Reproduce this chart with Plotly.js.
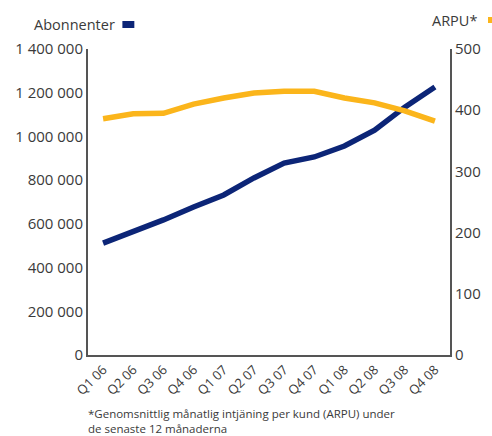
<!DOCTYPE html>
<html>
<head>
<meta charset="utf-8">
<script src="https://cdn.plot.ly/plotly-3.0.1.min.js"></script>
<style>html,body{margin:0;padding:0;background:#fff;}#chart{width:492px;height:436px;}</style>
</head>
<body>
<div id="chart"></div>
<script>
const quarters = ["Q1 06","Q2 06","Q3 06","Q4 06","Q1 07","Q2 07","Q3 07","Q4 07","Q1 08","Q2 08","Q3 08","Q4 08"];
const abonnenter = [512000, 563000, 618000, 677000, 732000, 810000, 878000, 906000, 956000, 1029000, 1134000, 1226000];
const arpu = [386, 394, 395, 410, 420, 428, 431, 431, 420, 412, 399, 382];

const navy = "#0c2577";
const gold = "#fbb51b";
const textColor = "#3a3a3a";
const fontFam = "'Open Sans', 'Noto Sans', sans-serif";

const traces = [
  {x: quarters, y: arpu, yaxis: "y2", type: "scatter", mode: "lines", name: "ARPU*",
   line: {color: gold, width: 5.5}},
  {x: quarters, y: abonnenter, yaxis: "y", type: "scatter", mode: "lines", name: "Abonnenter",
   line: {color: navy, width: 5.5}}
];

const layout = {
  width: 492, height: 436,
  margin: {l: 88, r: 42, t: 49, b: 81},
  paper_bgcolor: "#fff", plot_bgcolor: "#fff",
  showlegend: false,
  separators: ", ",
  font: {family: fontFam, size: 13, color: textColor},
  xaxis: {
    type: "category", range: [-0.5, 11.5],
    showgrid: false, zeroline: false,
    showline: true, linecolor: "#555", linewidth: 2,
    tickangle: -45, ticks: "", tickfont: {size: 13, color: textColor},
    fixedrange: true
  },
  yaxis: {
    range: [0, 1400000], dtick: 200000, tickformat: ",d",
    showgrid: false, zeroline: false,
    showline: true, linecolor: "#555", linewidth: 2,
    ticks: "", tickfont: {size: 15, color: textColor},
    fixedrange: true
  },
  yaxis2: {
    range: [0, 500], dtick: 100, overlaying: "y", side: "right",
    showgrid: false, zeroline: false,
    showline: true, linecolor: "#555", linewidth: 2,
    ticks: "", tickfont: {size: 15, color: textColor},
    fixedrange: true
  },
  annotations: [
    {xref: "paper", yref: "paper", x: -0.155, y: 1.0, yshift: 25, xanchor: "left", yanchor: "middle",
     text: "Abonnenter", showarrow: false, font: {size: 14.5, color: textColor}},
    {xref: "paper", yref: "paper", x: 1.08, y: 1.0, yshift: 29, xanchor: "right", yanchor: "middle",
     text: "ARPU*", showarrow: false, font: {size: 14.5, color: textColor}},
    {xref: "paper", yref: "paper", x: -0.005, y: 0, yshift: -49, xanchor: "left", yanchor: "top", align: "left",
     text: "*Genomsnittlig månatlig intjäning per kund (ARPU) under<br>de senaste 12 månaderna",
     showarrow: false, font: {size: 11.5, color: textColor}}
  ],
  shapes: [
    {type: "rect", xref: "paper", yref: "paper", x0: 0.095, x1: 0.128,
     ysizemode: "pixel", yanchor: 1.0, y0: 21, y1: 28, fillcolor: navy, line: {width: 0}},
    {type: "rect", xref: "paper", yref: "paper", x0: 1.105, x1: 1.13,
     ysizemode: "pixel", yanchor: 1.0, y0: 26, y1: 32, fillcolor: gold, line: {width: 0}}
  ]
};

Plotly.newPlot("chart", traces, layout, {displayModeBar: false, staticPlot: true});
</script>
</body>
</html>
